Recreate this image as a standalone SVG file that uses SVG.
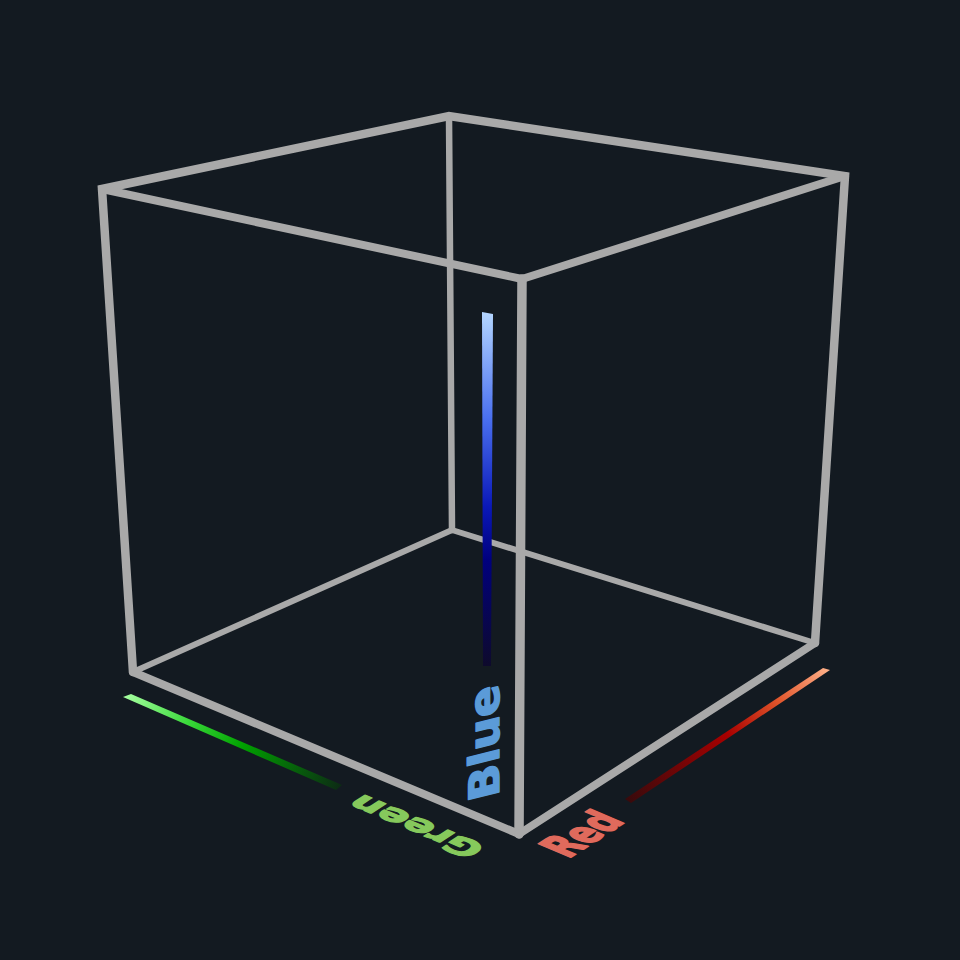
<svg xmlns="http://www.w3.org/2000/svg" width="960" height="960" viewBox="0 0 960 960">
<defs>
<style>
.edge{stroke:#a9a9a9;fill:none;stroke-linecap:round;stroke-linejoin:miter}
.lbl{font-family:"DejaVu Sans","Liberation Sans",sans-serif;font-weight:bold;stroke-linejoin:round}
</style>
<linearGradient id="gBlue" x1="0" y1="312" x2="0" y2="666" gradientUnits="userSpaceOnUse">
<stop offset="0" stop-color="#b4d6ff"/>
<stop offset="0.3" stop-color="#4a70f0"/>
<stop offset="0.55" stop-color="#0a18b8"/>
<stop offset="0.7" stop-color="#00007e"/>
<stop offset="1" stop-color="#0e0a2c"/>
</linearGradient>
<linearGradient id="gGreen" x1="125" y1="695" x2="339" y2="788" gradientUnits="userSpaceOnUse">
<stop offset="0" stop-color="#a6ffa0"/>
<stop offset="0.3" stop-color="#38d838"/>
<stop offset="0.55" stop-color="#00a000"/>
<stop offset="1" stop-color="#0c2c14"/>
</linearGradient>
<linearGradient id="gRed" x1="828" y1="669" x2="627" y2="801" gradientUnits="userSpaceOnUse">
<stop offset="0" stop-color="#ffb088"/>
<stop offset="0.25" stop-color="#e0542a"/>
<stop offset="0.5" stop-color="#a80000"/>
<stop offset="1" stop-color="#380a0c"/>
</linearGradient>
</defs>
<rect width="960" height="960" fill="#131a21"/>
<g id="connectors">
<line class="edge" x1="449" y1="116" x2="452" y2="530" stroke-width="6.5"/>
<line class="edge" x1="452" y1="530" x2="133" y2="672" stroke-width="6"/>
<line class="edge" x1="452" y1="530" x2="815" y2="643" stroke-width="6"/>
</g>
<g id="blue-axis">
<polygon points="482,312 493,314 491,666 483,666" fill="url(#gBlue)"/>
</g>
<g id="cube-front">
<polyline class="edge" points="133,672 102,189 449,116 845,176 815,643" stroke-width="8.5"/>
<line class="edge" x1="102" y1="189" x2="522" y2="279" stroke-width="8"/>
<line class="edge" x1="845" y1="176" x2="522" y2="279" stroke-width="8"/>
<line class="edge" x1="522" y1="279" x2="519" y2="834" stroke-width="9.5"/>
<line class="edge" x1="133" y1="672" x2="519" y2="834" stroke-width="8"/>
<line class="edge" x1="815" y1="643" x2="519" y2="834" stroke-width="8"/>
</g>
<g id="green-axis">
<polygon points="123,697 131,694 342,785 336,790" fill="url(#gGreen)"/>
</g>
<g id="red-axis">
<polygon points="823,668 830,670 631,803 625,799" fill="url(#gRed)"/>
</g>
<g id="label-blue">
<text class="lbl" font-size="44" fill="#5b9bd8" stroke="#5b9bd8" stroke-width="1.6" transform="matrix(0 -1.03 0.95 -0.24 499 796)">Blue</text>
</g>
<g id="label-green">
<text class="lbl" font-size="40" fill="#86c95c" stroke="#86c95c" stroke-width="1.8" transform="matrix(-0.93 -0.393 0.68 -0.44 488 847)">Green</text>
</g>
<g id="label-red">
<text class="lbl" font-size="34" fill="#e06a5c" stroke="#e06a5c" stroke-width="1.6" transform="matrix(0.785 -0.51 1.29 0.545 568 859)">Red</text>
</g>
</svg>
